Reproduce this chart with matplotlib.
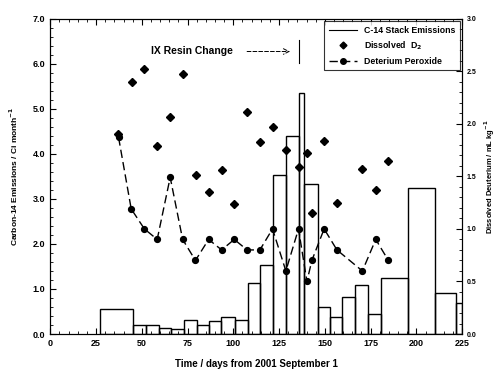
import numpy as np
import matplotlib
matplotlib.use("Agg")
import matplotlib.pyplot as plt
from matplotlib.ticker import MultipleLocator, FormatStrFormatter
from matplotlib.lines import Line2D

# C-14 stack emissions (step bars): bin edges in days and heights in Ci/month
bin_edges = [27, 45.4, 52.3, 59.2, 66.2, 73.3, 80.2, 86.9, 93.5, 101, 108, 114.6,
             121.4, 128.7, 135.6, 138.7, 146, 152.7, 159.5, 166.6, 173.6, 180.6,
             195.5, 210, 221.8, 225]
emissions = [0.55, 0.20, 0.19, 0.13, 0.11, 0.32, 0.21, 0.28, 0.38, 0.32, 1.13, 1.53,
             3.54, 4.39, 5.35, 3.33, 0.60, 0.38, 0.82, 1.09, 0.44, 1.24, 3.25, 0.92, 0.68]

# Dissolved D2 (right axis)
d2_days = [36.9, 44.5, 51.4, 58.4, 65.5, 72.3, 79.6, 86.5, 93.6, 100.5, 107.6, 114.6,
           121.4, 128.7, 135.6, 140.4, 142.9, 149.6, 156.6, 170.4, 177.8, 184.7]
d2_vals = [1.905, 2.40, 2.52, 1.79, 2.06, 2.47, 1.51, 1.35, 1.56, 1.24, 2.11, 1.83,
           1.97, 1.75, 1.59, 1.72, 1.15, 1.84, 1.25, 1.57, 1.37, 1.65]

# Deuterium peroxide (right axis)
per_days = [37.3, 44.2, 51.4, 58.4, 65.5, 72.3, 79.3, 86.5, 93.6, 100.5, 107.5, 114.5,
            121.4, 128.7, 135.6, 140.2, 142.9, 149.6, 156.6, 170.5, 177.8, 184.7]
per_vals = [1.87, 1.19, 1.00, 0.90, 1.49, 0.90, 0.70, 0.90, 0.80, 0.90, 0.80, 0.80,
            1.00, 0.60, 1.00, 0.50, 0.70, 1.00, 0.80, 0.60, 0.90, 0.70]

plt.rcParams['font.family'] = ['Liberation Sans', 'DejaVu Sans']
plt.rcParams['font.weight'] = 'bold'

fig = plt.figure(figsize=(4.98, 3.72), dpi=100)
ax = fig.add_axes([0.101, 0.102, 0.827, 0.848])
ax2 = ax.twinx()

edges = np.array(bin_edges)
ax.bar(edges[:-1], emissions, width=np.diff(edges), align='edge', fill=False,
       edgecolor='black', linewidth=1.0, zorder=2)

ax.set_xlim(0, 225)
ax.set_ylim(0, 7.0)
ax2.set_ylim(0, 3.0)

ax2.plot(d2_days, d2_vals, linestyle='none', marker='D', markersize=3.8,
         color='black', zorder=3)
ax2.plot(per_days, per_vals, linestyle=(0, (6, 3)), linewidth=1.0, marker='o',
         markersize=4.2, color='black', zorder=3)

# annotation
ax.text(55, 6.27, 'IX Resin Change', fontsize=7.5, fontweight='bold',
        va='center', ha='left')
ax.annotate('', xy=(132.5, 6.27), xytext=(106, 6.27),
            arrowprops=dict(arrowstyle='->', linestyle=(0, (4, 2)), lw=0.7,
                            color='black'))
ax.plot([135.6, 135.6], [6.02, 6.52], color='black', lw=0.8)

# ticks
for a in (ax, ax2):
    a.tick_params(direction='in', which='both', labelsize=6.5)
ax.xaxis.set_major_locator(MultipleLocator(25))
ax.xaxis.set_minor_locator(MultipleLocator(5))
ax.yaxis.set_major_locator(MultipleLocator(1.0))
ax.yaxis.set_minor_locator(MultipleLocator(0.2))
ax.yaxis.set_major_formatter(FormatStrFormatter('%.1f'))
ax2.yaxis.set_major_locator(MultipleLocator(0.5))
ax2.yaxis.set_minor_locator(MultipleLocator(0.1))
ax2.yaxis.set_major_formatter(FormatStrFormatter('%.1f'))
ax.tick_params(axis='x', which='both', top=True)
ax.tick_params(which='major', length=4, width=0.8)
ax.tick_params(which='minor', length=2, width=0.6)
ax2.tick_params(which='major', length=4, width=0.8, labelsize=5)
ax2.tick_params(which='minor', length=2, width=0.6)
for lab in ax.get_xticklabels() + ax.get_yticklabels() + ax2.get_yticklabels():
    lab.set_fontweight('bold')

ax.set_xlabel('Time / days from 2001 September 1', fontsize=7, fontweight='bold', labelpad=8)
ax.set_ylabel('Carbon-14 Emissions / Ci month$^{\\mathbf{-1}}$', fontsize=6,
              fontweight='bold', labelpad=9)
ax2.set_ylabel('Dissolved Deuterium / mL kg$^{\\mathbf{-1}}$', fontsize=5.5,
               fontweight='bold', labelpad=4)

# legend
handles = [Line2D([], [], color='black', lw=0.8),
           Line2D([], [], color='black', linestyle='none', marker='D', markersize=3.5),
           Line2D([], [], color='black', linestyle=(0, (6, 3)), lw=1.0, marker='o', markersize=4)]
labels = ['C-14 Stack Emissions', 'Dissolved  D$_\\mathbf{2}$', 'Deterium Peroxide']
leg = ax2.legend(handles, labels, loc='upper right', fontsize=6.3, frameon=True,
                 fancybox=False, edgecolor='black', borderaxespad=0.3,
                 handlelength=3.2, labelspacing=0.55, borderpad=0.5)
leg.get_frame().set_linewidth(0.8)
for t in leg.get_texts():
    t.set_fontweight('bold')

fig.savefig('out.png', dpi=100)
